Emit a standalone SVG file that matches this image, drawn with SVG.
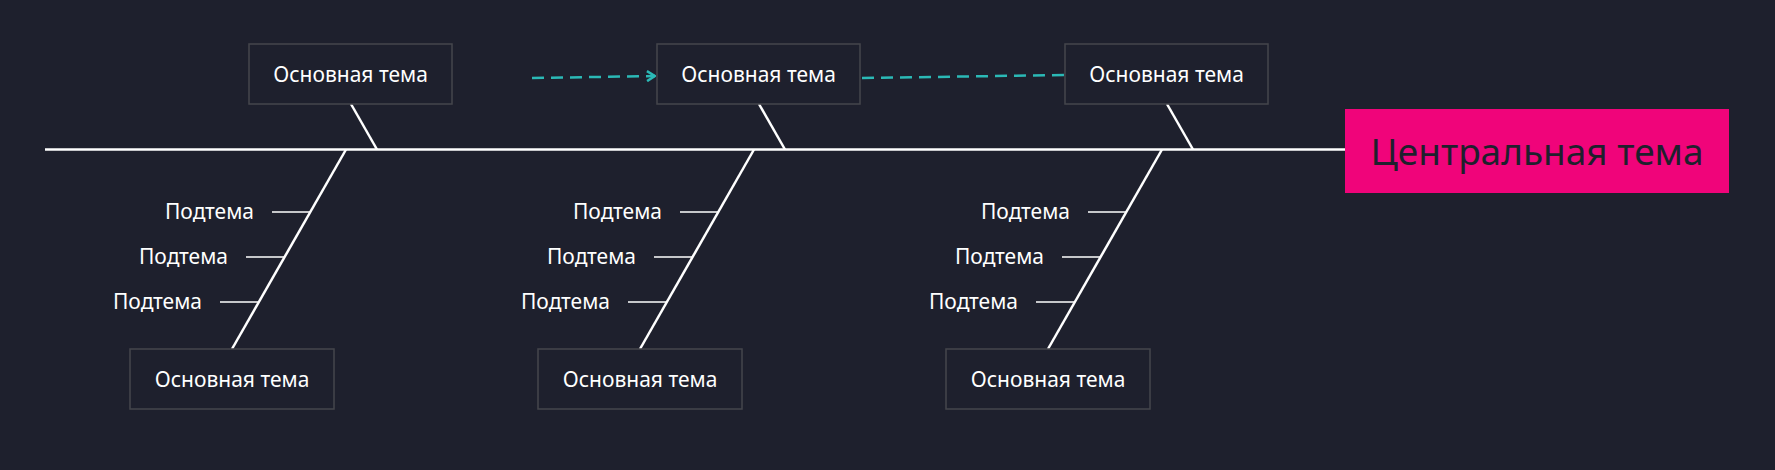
<svg xmlns="http://www.w3.org/2000/svg" width="1775" height="470" viewBox="0 0 1775 470">
<style>
.box{fill:#1e202d;stroke:#45464c;stroke-width:1.5}
.t{font-family:"Noto Sans","Open Sans",sans-serif;font-size:21px;fill:#ffffff}
.ln{stroke:#ffffff;stroke-width:2.5;fill:none}
.sub{stroke:#ffffff;stroke-width:1.5}
.dash{stroke:#2bb9b6;stroke-width:2.5;stroke-dasharray:12 7;fill:none}
</style>
<defs>
<marker id="ah" markerWidth="10" markerHeight="12" refX="9" refY="6" orient="auto" markerUnits="userSpaceOnUse">
<path d="M1,1 L9,6 L1,11" fill="none" stroke="#2bb9b6" stroke-width="2.5"/>
</marker>
</defs>
<rect width="1775" height="470" fill="#1e202d"/>
<g id="connectors">
<line class="ln" x1="45" y1="149.5" x2="1345" y2="149.5"/>
<line class="ln" x1="351" y1="104" x2="377" y2="149.5"/>
<line class="ln" x1="759" y1="104" x2="785" y2="149.5"/>
<line class="ln" x1="1167" y1="104" x2="1193" y2="149.5"/>
<line class="ln" x1="346" y1="149.5" x2="232" y2="349"/>
<line class="ln" x1="754" y1="149.5" x2="640" y2="349"/>
<line class="ln" x1="1162" y1="149.5" x2="1048" y2="349"/>
<line class="sub" x1="272" y1="212" x2="310" y2="212"/>
<line class="sub" x1="246" y1="257" x2="284" y2="257"/>
<line class="sub" x1="220" y1="302" x2="258" y2="302"/>
<line class="sub" x1="680" y1="212" x2="718" y2="212"/>
<line class="sub" x1="654" y1="257" x2="692" y2="257"/>
<line class="sub" x1="628" y1="302" x2="666" y2="302"/>
<line class="sub" x1="1088" y1="212" x2="1126" y2="212"/>
<line class="sub" x1="1062" y1="257" x2="1100" y2="257"/>
<line class="sub" x1="1036" y1="302" x2="1074" y2="302"/>
<line class="dash" x1="532" y1="78" x2="655" y2="76" marker-end="url(#ah)"/>
<line class="dash" x1="862" y1="78" x2="1065" y2="75"/>
</g>
<g id="central"><rect x="1345" y="109" width="384" height="84" fill="#f0047a"/><text x="1537" y="165" text-anchor="middle" font-family="Noto Sans,Open Sans,sans-serif" font-size="37" fill="#1e202d">Центральная тема</text></g>
<g id="top1"><rect class="box" x="249" y="44" width="203" height="60"/><text class="t" x="350.5" y="82" text-anchor="middle">Основная тема</text></g>
<g id="top2"><rect class="box" x="657" y="44" width="203" height="60"/><text class="t" x="758.5" y="82" text-anchor="middle">Основная тема</text></g>
<g id="top3"><rect class="box" x="1065" y="44" width="203" height="60"/><text class="t" x="1166.5" y="82" text-anchor="middle">Основная тема</text></g>
<g id="bot1"><rect class="box" x="130" y="349" width="204" height="60"/><text class="t" x="232" y="387" text-anchor="middle">Основная тема</text></g>
<g id="bot2"><rect class="box" x="538" y="349" width="204" height="60"/><text class="t" x="640" y="387" text-anchor="middle">Основная тема</text></g>
<g id="bot3"><rect class="box" x="946" y="349" width="204" height="60"/><text class="t" x="1048" y="387" text-anchor="middle">Основная тема</text></g>
<g id="subs1" class="t" text-anchor="end"><text class="t" x="254" y="219" text-anchor="end">Подтема</text><text class="t" x="228" y="264" text-anchor="end">Подтема</text><text class="t" x="202" y="309" text-anchor="end">Подтема</text></g>
<g id="subs2"><text class="t" x="662" y="219" text-anchor="end">Подтема</text><text class="t" x="636" y="264" text-anchor="end">Подтема</text><text class="t" x="610" y="309" text-anchor="end">Подтема</text></g>
<g id="subs3"><text class="t" x="1070" y="219" text-anchor="end">Подтема</text><text class="t" x="1044" y="264" text-anchor="end">Подтема</text><text class="t" x="1018" y="309" text-anchor="end">Подтема</text></g>
</svg>
